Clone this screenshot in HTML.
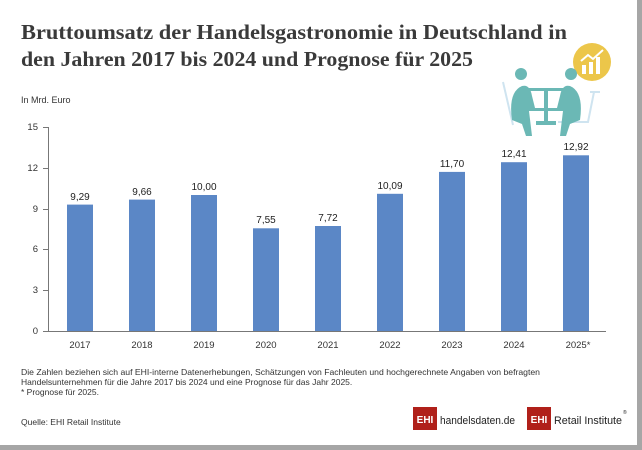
<!DOCTYPE html>
<html><head><meta charset="utf-8"><style>
body{margin:0;background:#fff}
.c{position:relative;width:642px;height:450px;overflow:hidden;background:#fff;font-family:"Liberation Sans",sans-serif}
</style></head><body><div class="c">
<svg width="642" height="450" viewBox="0 0 642 450" style="position:absolute;left:0;top:0">
<rect x="637" y="0" width="5" height="450" fill="#a6a6a6"/>
<rect x="0" y="445" width="642" height="5" fill="#a6a6a6"/>
<text x="21" y="39" font-family="Liberation Serif,serif" font-weight="bold" font-size="21" fill="#3a3a3a" textLength="546" lengthAdjust="spacingAndGlyphs">Bruttoumsatz der Handelsgastronomie in Deutschland in</text>
<text x="21" y="66" font-family="Liberation Serif,serif" font-weight="bold" font-size="21" fill="#3a3a3a" textLength="452" lengthAdjust="spacingAndGlyphs">den Jahren 2017 bis 2024 und Prognose für 2025</text>
<text x="21" y="103" font-size="9" fill="#333">In Mrd. Euro</text>
<!-- illustration -->
<g>
<circle cx="592" cy="62" r="19" fill="#ecc64a"/>
<rect x="582" y="65" width="4" height="9" fill="#fff"/><rect x="589" y="62" width="4" height="12" fill="#fff"/><rect x="596" y="57" width="4" height="17" fill="#fff"/>
<polyline points="581,61 588,55 593,59 603,50" fill="none" stroke="#fff" stroke-width="2"/>
<path d="M503,82 l10,43 M590,92 h10 M594,92 l-6,30 h-30" fill="none" stroke="#cfe4f0" stroke-width="2"/>
<path d="M512,120 q-4,-28 10,-34 q8,-2 10,10 l3,12 h12 v3 h-18 l3,25 h-6 l-4,-12 z" fill="#6bb8b5"/>
<circle cx="521" cy="74" r="6" fill="#6bb8b5"/>
<path d="M580,120 q4,-28 -10,-34 q-8,-2 -10,10 l-3,12 h-12 v3 h18 l-3,25 h6 l4,-12 z" fill="#6bb8b5"/>
<circle cx="571" cy="74" r="6" fill="#6bb8b5"/>
<rect x="524" y="88" width="44" height="3" fill="#6bb8b5"/>
<path d="M544,91 h4 v30 h8 v4 h-20 v-4 h8z" fill="#6bb8b5"/>
</g>
<!-- axes -->
<g font-size="9.5" fill="#333" text-anchor="end">
<text x="38" y="130">15</text><text x="38" y="171">12</text><text x="38" y="212">9</text>
<text x="38" y="252">6</text><text x="38" y="293">3</text><text x="38" y="334">0</text>
</g>
<g stroke="#777" stroke-width="1">
<line x1="48.5" y1="127" x2="48.5" y2="331"/>
<line x1="43" y1="127.5" x2="48" y2="127.5"/><line x1="43" y1="168.5" x2="48" y2="168.5"/><line x1="43" y1="209.5" x2="48" y2="209.5"/>
<line x1="43" y1="249.5" x2="48" y2="249.5"/><line x1="43" y1="290.5" x2="48" y2="290.5"/>
<line x1="43" y1="331.5" x2="606" y2="331.5"/>
</g>
<g fill="#5b87c6">
<rect x="67" y="204.6" width="26" height="126.4"/>
<rect x="129" y="199.6" width="26" height="131.4"/>
<rect x="191" y="195" width="26" height="136"/>
<rect x="253" y="228.3" width="26" height="102.7"/>
<rect x="315" y="226" width="26" height="105"/>
<rect x="377" y="193.8" width="26" height="137.2"/>
<rect x="439" y="171.9" width="26" height="159.1"/>
<rect x="501" y="162.2" width="26" height="168.8"/>
<rect x="563" y="155.3" width="26" height="175.7"/>
</g>
<g font-size="10" fill="#222" text-anchor="middle">
<text x="80" y="200">9,29</text><text x="142" y="195">9,66</text><text x="204" y="190">10,00</text>
<text x="266" y="223">7,55</text><text x="328" y="221">7,72</text><text x="390" y="189">10,09</text>
<text x="452" y="167">11,70</text><text x="514" y="157">12,41</text><text x="576" y="150">12,92</text>
</g>
<g font-size="9.5" fill="#333" text-anchor="middle">
<text x="80" y="348">2017</text><text x="142" y="348">2018</text><text x="204" y="348">2019</text>
<text x="266" y="348">2020</text><text x="328" y="348">2021</text><text x="390" y="348">2022</text>
<text x="452" y="348">2023</text><text x="514" y="348">2024</text><text x="578" y="348">2025*</text>
</g>
<g font-size="8.5" fill="#333">
<text x="21" y="375" textLength="519" lengthAdjust="spacingAndGlyphs">Die Zahlen beziehen sich auf EHI-interne Datenerhebungen, Schätzungen von Fachleuten und hochgerechnete Angaben von befragten</text>
<text x="21" y="385">Handelsunternehmen für die Jahre 2017 bis 2024 und eine Prognose für das Jahr 2025.</text>
<text x="21" y="395">* Prognose für 2025.</text>
<text x="21" y="425">Quelle: EHI Retail Institute</text>
</g>
<rect x="413" y="407" width="24" height="23" fill="#b0201a"/>
<text x="425" y="423" font-size="10" font-weight="bold" fill="#fff" text-anchor="middle">EHI</text>
<text x="440" y="424" font-size="11" fill="#222" textLength="75" lengthAdjust="spacingAndGlyphs">handelsdaten.de</text>
<rect x="527" y="407" width="24" height="23" fill="#b0201a"/>
<text x="539" y="423" font-size="10" font-weight="bold" fill="#fff" text-anchor="middle">EHI</text>
<text x="554" y="424" font-size="11" fill="#222" textLength="68" lengthAdjust="spacingAndGlyphs">Retail Institute</text>
<text x="623" y="414" font-size="5" fill="#222">®</text>
</svg>
</div></body></html>
